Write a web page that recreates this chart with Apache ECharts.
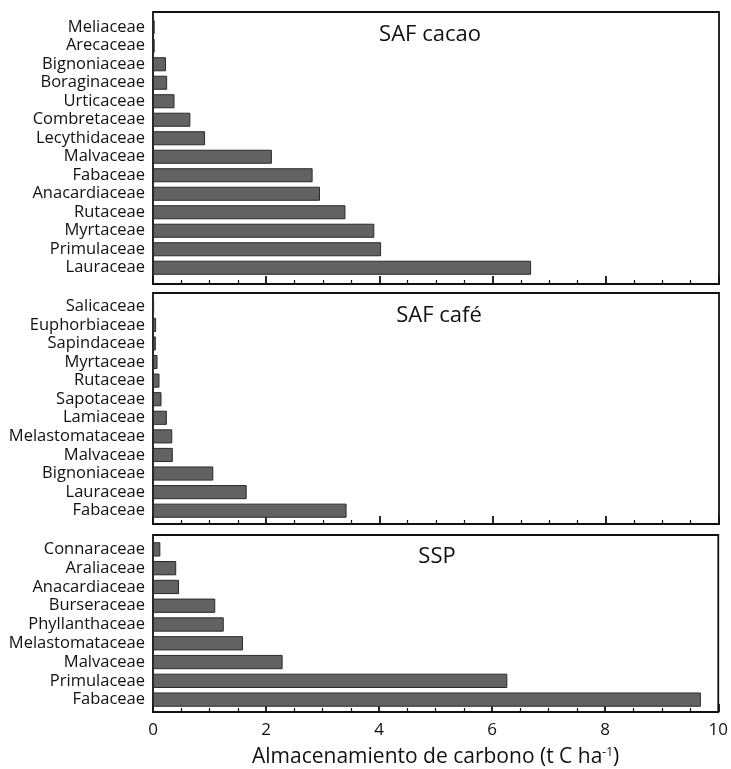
<!DOCTYPE html>
<html>
<head>
<meta charset="utf-8">
<script src="https://cdn.jsdelivr.net/npm/echarts@6/dist/echarts.min.js"></script>
<style>
html,body{margin:0;padding:0;background:#fff;}
#c{width:731px;height:769px;}
</style>
</head>
<body>
<div id="c"></div>
<script>
// Data (top to bottom as displayed)
const cacaoCats = ["Meliaceae","Arecaceae","Bignoniaceae","Boraginaceae","Urticaceae","Combretaceae","Lecythidaceae","Malvaceae","Fabaceae","Anacardiaceae","Rutaceae","Myrtaceae","Primulaceae","Lauraceae"];
const cacaoVals = [0.03,0.03,0.23,0.25,0.38,0.66,0.92,2.10,2.82,2.95,3.40,3.91,4.03,6.68];
const cafeCats = ["Salicaceae","Euphorbiaceae","Sapindaceae","Myrtaceae","Rutaceae","Sapotaceae","Lamiaceae","Melastomataceae","Malvaceae","Bignoniaceae","Lauraceae","Fabaceae"];
const cafeVals = [0.02,0.055,0.05,0.08,0.115,0.15,0.245,0.34,0.35,1.065,1.655,3.42];
const sspCats = ["Connaraceae","Araliaceae","Anacardiaceae","Burseraceae","Phyllanthaceae","Melastomataceae","Malvaceae","Primulaceae","Fabaceae"];
const sspVals = [0.13,0.41,0.46,1.10,1.25,1.59,2.29,6.26,9.68];
const panelTitles = ["SAF cacao","SAF café","SSP"];
const xTicks = [0,2,4,6,8,10];

const FONT = "Open Sans";
const frames = [{top:12,height:272},{top:293,height:231},{top:535,height:177}];
const datas  = [{top:18,height:259},{top:297,height:223},{top:540,height:169}];
const cats = [cacaoCats,cafeCats,sspCats];
const vals = [cacaoVals,cafeVals,sspVals];
const L = 153, R = 12;

const grid = [], xAxis = [], yAxis = [], series = [];
for (let i=0;i<3;i++){
  // frame grid
  grid.push({left:L,right:R,top:frames[i].top,height:frames[i].height,show:true,borderColor:'#111',borderWidth:1.8,backgroundColor:'transparent'});
  const isBottom = i===2;
  xAxis.push({
    type:'value',gridIndex:2*i,min:0,max:10,interval:2,
    axisLine:{show:true,lineStyle:{color:'#111',width:1.8}},
    axisTick:{show:true,inside:true,length:8,lineStyle:{color:'#111',width:1.8}},
    minorTick:{show:true,splitNumber:4,length:4,lineStyle:{color:'#111',width:1.2}},
    splitLine:{show:false},
    axisLabel:{show:isBottom,color:'#111',fontFamily:FONT,fontSize:17,margin:10,
      formatter:function(v){return xTicks.indexOf(v)>=0?String(v):'';}},
    name:isBottom?'{a|Almacenamiento de carbono (t C ha}{s|-1}{a|)}':'',
    nameLocation:'middle',nameGap:35,
    nameTextStyle:{rich:{a:{fontFamily:FONT,fontSize:21,color:'#111'},s:{fontFamily:FONT,fontSize:12,color:'#111',verticalAlign:'top',padding:[0,0,9,0]}}}
  });
  yAxis.push({type:'value',gridIndex:2*i,min:0,max:1,show:false});
  series.push({type:'bar',xAxisIndex:2*i,yAxisIndex:2*i,data:[],silent:true});
  // data grid
  grid.push({left:L,right:R,top:datas[i].top,height:datas[i].height});
  xAxis.push({type:'value',gridIndex:2*i+1,min:0,max:10,show:false});
  yAxis.push({type:'category',gridIndex:2*i+1,data:cats[i],inverse:true,
    axisLine:{show:false},axisTick:{show:false},splitLine:{show:false},
    axisLabel:{color:'#111',fontFamily:FONT,fontSize:16.5,margin:8,interval:0}});
  series.push({type:'bar',xAxisIndex:2*i+1,yAxisIndex:2*i+1,data:vals[i],barWidth:'76%',
    itemStyle:{color:'#626262',borderColor:'#2a2a2a',borderWidth:1},silent:true});
}

const titles = [
  {text:panelTitles[0],left:425,top:19},
  {text:panelTitles[1],left:434,top:300},
  {text:panelTitles[2],left:432,top:541}
].map(t=>({text:t.text,left:t.left,top:t.top,textAlign:'center',
  textStyle:{fontFamily:FONT,fontSize:22,fontWeight:'normal',color:'#111'}}));

const chart = echarts.init(document.getElementById('c'),null,{renderer:'canvas'});
chart.setOption({animation:false,backgroundColor:'#fff',title:titles,grid,xAxis,yAxis,series});
</script>
</body>
</html>
